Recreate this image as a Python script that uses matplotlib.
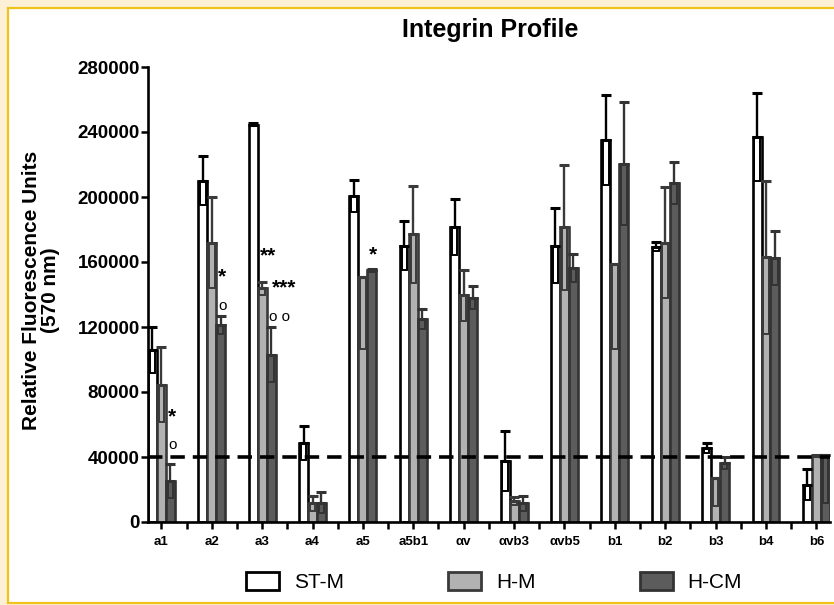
import numpy as np
import matplotlib
matplotlib.use("Agg")
import matplotlib.pyplot as plt
from matplotlib.patches import Rectangle, Patch

plt.rcParams['font.family'] = ['Liberation Sans', 'DejaVu Sans']

labels = ["a1", "a2", "a3", "a4", "a5", "a5b1", "αv", "αvb3", "αvb5",
          "b1", "b2", "b3", "b4", "b6"]
series = ["ST-M", "H-M", "H-CM"]

st_m = [106000, 210000, 244500, 48500, 200500, 170000, 181500, 37500, 170000,
        235000, 169500, 45500, 237000, 23000]
st_m_hi = [14000, 15000, 1000, 10500, 10000, 15000, 17000, 18500, 23000,
           27500, 3000, 3000, 27000, 9500]
st_m_lo = st_m_hi

h_m = [84500, 172000, 144000, 11500, 150500, 177000, 139500, 13000, 181500,
       158500, 172000, 27000, 163000, 40800]
h_m_hi = [23000, 28000, 4000, 4500, 0, 30000, 15500, 2500, 38500,
          0, 34000, 0, 47000, 500]
h_m_lo = [23000, 28000, 4000, 4500, 44000, 30000, 15500, 2500, 38500,
          52000, 34000, 17000, 47000, 500]

h_cm = [25500, 121000, 103000, 12000, 155000, 125000, 138000, 11500, 156500,
        220500, 208500, 36500, 162500, 41000]
h_cm_hi = [10500, 5500, 17000, 6500, 1000, 6000, 7000, 4500, 8500,
           38000, 13000, 3700, 16500, 0]
h_cm_lo = [10500, 5500, 17000, 6500, 1000, 6000, 7000, 4500, 8500,
           38000, 13000, 3700, 16500, 29000]

threshold = 40000

# significance marks: (text, group x, y)
marks = [("*", 0.22, 64600), ("o", 0.22, 47400),
         ("*", 1.21, 150800), ("o", 1.21, 132900),
         ("**", 2.12, 163700), ("***", 2.44, 144000), ("o o", 2.34, 126200),
         ("*", 4.19, 164300)]

fills = ["white", "#b2b2b2", "#5c5c5c"]
edges = ["black", "#3a3a3a", "#333333"]

fig = plt.figure(figsize=(8.34, 6.05), dpi=100)
fig.patch.set_facecolor("#fcf1d6")
fig.patches.append(Rectangle((8 / 834, 2 / 605), 1.0, 1 - 10 / 605,
                             transform=fig.transFigure, facecolor="white",
                             edgecolor="#f2c21c", linewidth=1.6, zorder=-5))

ax = fig.add_axes([148 / 834, 1 - 522 / 605, (830 - 148) / 834, (522 - 67) / 605])
ax.patch.set_visible(False)
ax.set_zorder(2)

x = np.arange(len(labels))
w = 0.178
data = [(st_m, st_m_hi, st_m_lo), (h_m, h_m_hi, h_m_lo), (h_cm, h_cm_hi, h_cm_lo)]
for k, (vals, hi, lo) in enumerate(data):
    xs = x + (k - 1) * w
    vals = np.array(vals)
    hi = np.array(hi)
    lo = np.array(lo)
    ax.bar(xs, vals, width=w, color=fills[k], edgecolor=edges[k],
           linewidth=1.9, zorder=2)
    # lower part of error bar drawn as a box inside the bar
    ax.bar(xs, lo, bottom=vals - lo, width=w * 0.62, fill=False,
           edgecolor=edges[k], linewidth=1.4, zorder=3)
    ax.errorbar(xs, vals, yerr=[np.zeros_like(hi), hi], fmt="none",
                ecolor=edges[k], elinewidth=1.7, capsize=3.5, capthick=2.2,
                zorder=3)

ax.axhline(threshold, color="black", linestyle=(0, (4, 2.2)), linewidth=2.6,
           zorder=4)

for txt, mx, my in marks:
    if "o" in txt:
        ax.text(mx, my, txt, ha="center", va="center", fontsize=11,
                zorder=5)
    else:
        ax.text(mx, my, txt, ha="center", va="center", fontsize=15,
                fontweight="bold", zorder=5)

ax.set_xlim(-0.265, 13.27)
ax.set_ylim(0, 280000)
ax.set_yticks(np.arange(0, 280001, 40000))
ax.set_yticklabels([str(v) for v in range(0, 280001, 40000)],
                   fontsize=13.5, fontweight="bold")
ax.set_xticks(x)
ax.set_xticks(x[:-1] + 0.5, minor=True)
ax.set_xticklabels(labels, fontsize=9.5, fontweight="bold")
ax.tick_params(axis="y", direction="out", length=5, width=1.8, pad=1)
ax.tick_params(axis="x", which="both", direction="out", length=5, width=1.8,
               pad=5)
for s in ["top", "right"]:
    ax.spines[s].set_visible(False)
for s in ["left", "bottom"]:
    ax.spines[s].set_linewidth(1.9)

fig.text(490 / 834, 1 - 30 / 605, "Integrin Profile", ha="center",
         va="center", fontsize=18, fontweight="bold")
fig.text(41 / 834, 1 - 290 / 605, "Relative Fluorescence Units\n(570 nm)",
         rotation=90, ha="center", va="center", fontsize=15,
         fontweight="bold", multialignment="center", linespacing=1.0)

handles = [Patch(facecolor=fills[k], edgecolor=edges[k], linewidth=2,
                 label=series[k]) for k in range(3)]
fig.legend(handles=handles, loc="center", bbox_to_anchor=(494 / 834, 0.038),
           ncol=3, frameon=False, fontsize=15, handlelength=1.6,
           handleheight=1.0, handletextpad=0.7, columnspacing=5.0)

fig.savefig("out.png", dpi=100, facecolor=fig.get_facecolor())
